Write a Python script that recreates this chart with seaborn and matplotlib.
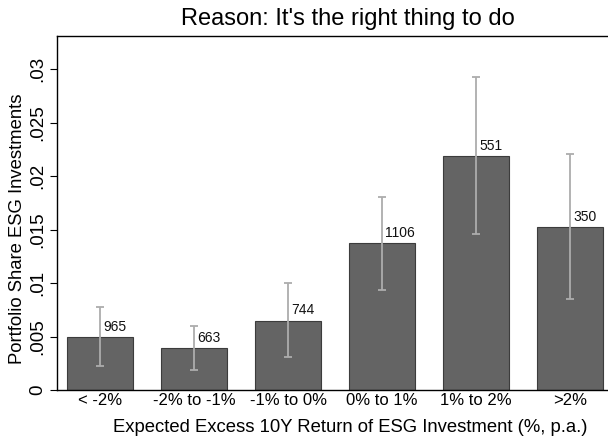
import matplotlib
matplotlib.use("Agg")
import matplotlib.pyplot as plt
import seaborn as sns
import numpy as np
import pandas as pd

categories = ["< -2%", "-2% to -1%", "-1% to 0%", "0% to 1%", "1% to 2%", ">2%"]
share = [0.00495, 0.00393, 0.00648, 0.01372, 0.02187, 0.01523]
ci_low = [0.00224, 0.00187, 0.00310, 0.00935, 0.01458, 0.00850]
ci_high = [0.00776, 0.00600, 0.01000, 0.01800, 0.02925, 0.02206]
counts = [965, 663, 744, 1106, 551, 350]
yticks = [0, 0.005, 0.01, 0.015, 0.02, 0.025, 0.03]
ytick_labels = ["0", ".005", ".01", ".015", ".02", ".025", ".03"]

sns.set_style("white")
plt.rcParams["font.family"] = ["Liberation Sans", "DejaVu Sans"]
for key in ["text.color", "axes.labelcolor", "xtick.color", "ytick.color"]:
    plt.rcParams[key] = "#000000"

df = pd.DataFrame({"bucket": categories, "share": share})

fig = plt.figure(figsize=(6.08, 4.37), dpi=100)
ax = fig.add_axes([0.0938, 0.1076, 0.9062, 0.81])

sns.barplot(data=df, x="bucket", y="share", order=categories, errorbar=None,
            color="#646464", edgecolor="#3c3c3c", linewidth=0.8,
            width=0.70, saturation=1, ax=ax)

xpos = np.arange(len(categories))
vals = np.array(share)
yerr = np.vstack([vals - np.array(ci_low), np.array(ci_high) - vals])
ax.errorbar(xpos, vals, yerr=yerr, fmt="none", ecolor="#adadad",
            elinewidth=1.3, capsize=3.2, capthick=1.3, zorder=3)

for x, v, n in zip(xpos, vals, counts):
    ax.text(x + 0.035, v + 0.0003, str(n), ha="left", va="bottom",
            fontsize=10, color="#111111", zorder=4)

ax.set_xlim(-0.457, 5.404)
ax.set_ylim(0, 0.0331)
ax.set_yticks(yticks)
ax.set_yticklabels(ytick_labels, rotation=90, va="center", fontsize=13.5)
ax.tick_params(axis="y", direction="out", length=5, width=0.8, pad=3, left=True)
ax.tick_params(axis="x", length=0, labelsize=12, pad=2)

for side in ["left", "bottom", "top"]:
    ax.spines[side].set_visible(True)
    ax.spines[side].set_color("#000000")
    ax.spines[side].set_linewidth(1.0)
ax.spines["right"].set_visible(False)

ax.set_xlabel("Expected Excess 10Y Return of ESG Investment (%, p.a.)", fontsize=13.3, labelpad=6)
ax.xaxis.set_label_coords(0.532, -0.082)
ax.set_ylabel("Portfolio Share ESG Investments", fontsize=13.3, labelpad=3)
ax.yaxis.set_label_coords(-0.056, 0.455)
ax.set_title("Reason: It's the right thing to do", fontsize=17, pad=8, x=0.527)

fig.savefig("out.png", dpi=100)
